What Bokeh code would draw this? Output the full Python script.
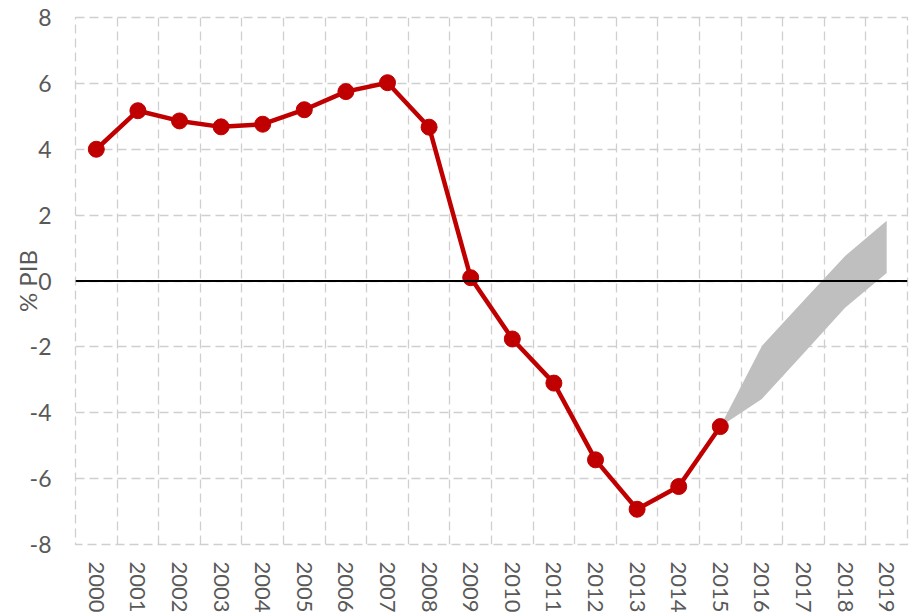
import math
from bokeh.plotting import figure
from bokeh.models import FactorRange, Range1d, FixedTicker, Span
from bokeh.embed import file_html
from bokeh.resources import INLINE

years = [str(y) for y in range(2000, 2020)]
hist_years = [str(y) for y in range(2000, 2016)]
balance = [4.0, 5.17, 4.86, 4.68, 4.76, 5.2, 5.75, 6.02, 4.67, 0.1,
           -1.76, -3.1, -5.43, -6.93, -6.24, -4.42]
band_years = ["2015", "2016", "2017", "2018", "2019"]
band_low = [-4.42, -3.58, -2.2, -0.81, 0.24]
band_high = [-4.42, -1.97, -0.6, 0.76, 1.83]
y_ticks = [-8, -6, -4, -2, 0, 2, 4, 6, 8]

FONT = "Lato"
GRID = "#cfcfcf"

p = figure(width=915, height=616, x_range=FactorRange(*years),
           y_range=Range1d(-8, 8), output_backend="svg",
           toolbar_location=None, min_border_left=75, min_border_top=17,
           min_border_right=8, min_border_bottom=72)
p.background_fill_color = "white"
p.border_fill_color = "white"
p.outline_line_color = GRID
p.outline_line_dash = "9 5"
p.outline_line_width = 1.3

p.xgrid.ticker = FixedTicker(ticks=list(range(0, len(years) + 1)))
for g in (p.xgrid, p.ygrid):
    g.grid_line_color = GRID
    g.grid_line_dash = "9 5"
    g.grid_line_width = 1.3

p.yaxis.ticker = FixedTicker(ticks=y_ticks)
p.yaxis.major_label_overrides = {t: str(t) for t in y_ticks}
for ax in (p.xaxis, p.yaxis):
    ax.axis_line_color = None
    ax.major_tick_line_color = None
    ax.minor_tick_line_color = None
    ax.major_tick_out = 0
    ax.major_tick_in = 0
    ax.major_label_text_font = FONT
    ax.major_label_text_color = "#595959"
p.yaxis.major_label_text_font_size = "23px"
p.xaxis.major_label_text_font_size = "22px"
p.yaxis.major_label_standoff = 24
p.xaxis.major_label_standoff = 17
p.xaxis.major_label_orientation = "vertical"

p.yaxis.axis_label = "% PIB"
p.yaxis.axis_label_standoff = -15
p.yaxis.axis_label_text_font = FONT
p.yaxis.axis_label_text_font_style = "normal"
p.yaxis.axis_label_text_font_size = "24px"
p.yaxis.axis_label_text_color = "#595959"

p.varea(x=band_years, y1=band_low, y2=band_high, fill_color="#bfbfbf")
p.add_layout(Span(location=0, dimension="width", line_color="black", line_width=2))
p.line(hist_years, balance, line_color="#c00000", line_width=4.5)
p.scatter(hist_years, balance, size=16, fill_color="#c00000", line_color="#c00000")

open("out.html", "w").write(file_html(p, INLINE))
